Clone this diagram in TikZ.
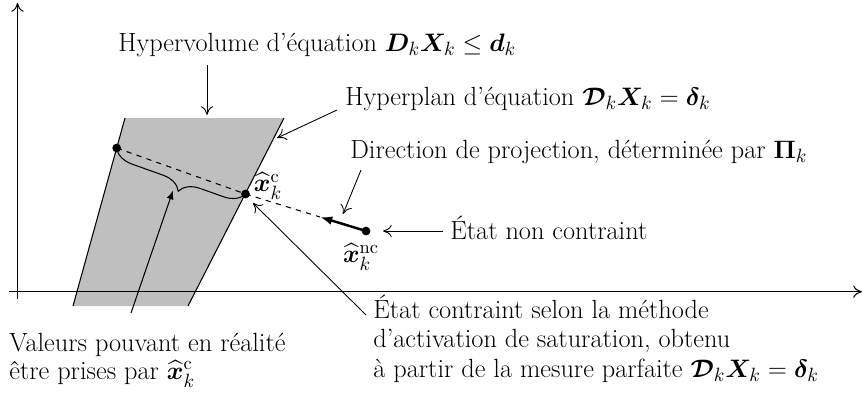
\documentclass[tikz,border=0pt]{standalone}
\usepackage{fontspec}
\usepackage{amsmath,amssymb,bm}
\usetikzlibrary{arrows.meta,decorations.pathreplacing}
\newcommand{\xh}[1]{\widehat{\boldsymbol{x}}^{\mathrm{#1}}_k}
\begin{document}
\begin{tikzpicture}[x=0.57pt,y=-0.57pt,
  font=\fontsize{15}{16.6}\selectfont,
  thinline/.style={line width=0.6pt},
  pointer/.style={line width=0.5pt,-{To[length=5pt,width=7pt]}},
  axisline/.style={line width=0.6pt,-{To[length=5pt,width=7pt]}},
  dot/.style={circle,fill=black,inner sep=0pt,minimum size=5pt},
  lab/.style={inner sep=0pt,anchor=base west,align=left}]
\useasboundingbox (0,0) rectangle (863,396);
% trapezoid
\coordinate (TL) at (125,118);
\coordinate (TR) at (284,118);
\coordinate (BR) at (188,306);
\coordinate (BL) at (73,306);
\fill[black!25] (TL) -- (TR) -- (BR) -- (BL) -- cycle;
\draw[thinline] (TL) -- (BL);
\draw[thinline] (TR) -- (BR);
% axes
\coordinate (xs) at (9,291.7);
\coordinate (xe) at (862,291.7);
\coordinate (ys) at (17.5,299);
\coordinate (ye) at (17.5,3);
\draw[axisline] (xs) -- (xe);
\draw[axisline] (ys) -- (ye);
% points
\node[dot] (L) at (116.7,148) {};
\node[dot] (R) at (245.5,194) {};
\node[dot] (NC) at (366,231) {};
\coordinate (P) at (320,217);
\draw[thinline,dashed] (L.center) -- (R.center) -- (P);
\draw[line width=1.4pt,-{Latex[length=7pt,width=5pt]}] (NC.center) -- (P);
% brace
\draw[thinline,decorate,decoration={brace,amplitude=11.4pt,aspect=0.47}] (R.center) -- (L.center);
\coordinate (cusp) at (173,190.5);
\coordinate (vs) at (131,313);
\draw[thinline,-{Latex[length=5pt,width=4pt]}] (vs) -- (cusp);
% labels
\node[inner sep=0pt] (xc) at (268,186) {$\xh{c}$};
\node[inner sep=0pt] (xnc) at (361,257) {$\xh{nc}$};
\node[lab] (hv) at (118,51) {Hypervolume d'équation $\boldsymbol{D}_k\boldsymbol{X}_k\leq\boldsymbol{d}_k$};
\node[lab] (hp) at (345,105) {Hyperplan d'équation $\boldsymbol{\mathcal{D}}_k\boldsymbol{X}_k=\boldsymbol{\delta}_k$};
\node[lab] (dir) at (350,158) {Direction de projection, déterminée par $\boldsymbol{\Pi}_k$};
\node[lab] (enc) at (450,239) {État non contraint};
\node[lab] (ec) at (373,377) {État contraint selon la méthode\\d'activation de saturation, obtenu\\à partir de la mesure parfaite $\boldsymbol{\mathcal{D}}_k\boldsymbol{X}_k=\boldsymbol{\delta}_k$};
\node[lab,font=\fontsize{15}{15.4}\selectfont] (val) at (9,379) {Valeurs pouvant en réalité\\être prises par $\xh{c}$};
% pointers
\coordinate (a1) at (207,65);  \coordinate (a1e) at (207,115);
\coordinate (a2) at (337,110); \coordinate (a2e) at (277,138);
\coordinate (a3) at (361,170); \coordinate (a3e) at (343,214);
\coordinate (a4) at (443,231); \coordinate (a4e) at (383,231);
\coordinate (a5) at (366,315); \coordinate (a5e) at (253,203);
\draw[pointer] (a1) -- (a1e);
\draw[pointer] (a2) -- (a2e);
\draw[pointer] (a3) -- (a3e);
\draw[pointer] (a4) -- (a4e);
\draw[pointer] (a5) -- (a5e);
\end{tikzpicture}
\end{document}
